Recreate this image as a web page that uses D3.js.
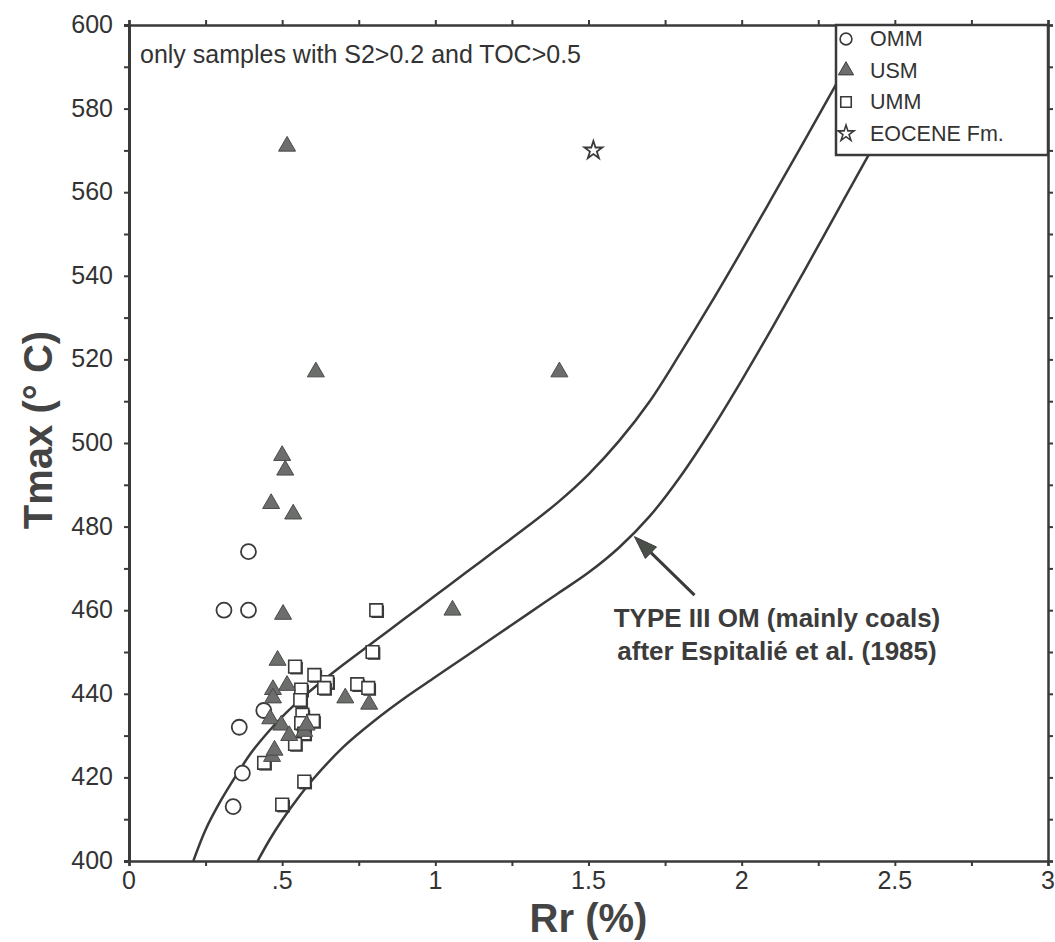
<!DOCTYPE html>
<html>
<head>
<meta charset="utf-8">
<script src="https://cdn.jsdelivr.net/npm/d3@7"></script>
<style>
  body { margin: 0; background: #fff; }
  text { font-family: "Liberation Sans", Arial, sans-serif; fill: #333; }
</style>
</head>
<body>
<svg id="chart" width="1055" height="942"></svg>
<script>
// values: [Rr %, Tmax °C]
var omm = [[0.31, 460], [0.39, 460], [0.39, 474], [0.44, 436], [0.36, 432], [0.37, 421], [0.34, 413]];
var usm = [[0.516, 571], [0.61, 517], [1.405, 517], [0.50, 497], [0.51, 493.5], [0.464, 485.5], [0.536, 483],
           [1.056, 460], [0.503, 459], [0.485, 448], [0.516, 442], [0.47, 441], [0.47, 439], [0.706, 439],
           [0.784, 437.5], [0.461, 434], [0.497, 432.5], [0.523, 430], [0.572, 431], [0.58, 432.5],
           [0.467, 425], [0.475, 426.5]];
var umm = [[0.807, 460], [0.795, 450], [0.542, 446.5], [0.605, 444.5], [0.647, 442.8], [0.637, 441.4],
           [0.745, 442.3], [0.781, 441.4], [0.562, 441], [0.559, 438.5], [0.566, 435], [0.601, 433.5],
           [0.562, 433], [0.572, 430.5], [0.542, 428], [0.441, 423.5], [0.572, 419], [0.50, 413.5]];
var eocene = [[1.516, 570]];

// Espitalie et al. (1985) type III band, read along both edges
var upperBound = [[0.21, 400], [0.25, 407.5], [0.30, 414.5], [0.35, 420.5], [0.40, 426], [0.45, 430.5],
                  [0.50, 434.5], [0.55, 438], [0.60, 441.2], [0.70, 447], [0.80, 452.5], [0.90, 458],
                  [1.0, 463.5], [1.1, 469], [1.2, 474.5], [1.3, 480], [1.4, 485.8], [1.5, 492.5],
                  [1.6, 500.5], [1.7, 510], [1.8, 521.5], [1.9, 533.5], [2.0, 546], [2.1, 558.8],
                  [2.2, 571.7], [2.3, 584.7], [2.4, 598], [2.42, 600.5]];
var lowerBound = [[0.42, 400], [0.46, 405.2], [0.50, 409.8], [0.55, 414.9], [0.60, 419.5], [0.70, 427.3],
                  [0.80, 433.5], [0.90, 439], [1.0, 444], [1.1, 449], [1.2, 454], [1.3, 459], [1.4, 464],
                  [1.5, 469], [1.6, 475], [1.7, 482.5], [1.8, 492], [1.9, 503], [2.0, 515], [2.1, 527.6],
                  [2.2, 540.6], [2.3, 553.8], [2.4, 567], [2.5, 580], [2.6, 593], [2.66, 600.5]];
var arrowFrom = [1.846, 463.6];
var arrowTo = [1.650, 477.6];

var xTicks = [0, 0.5, 1, 1.5, 2, 2.5, 3];
var xTickLabels = ["0", ".5", "1", "1.5", "2", "2.5", "3"];
var yTicks = [400, 420, 440, 460, 480, 500, 520, 540, 560, 580, 600];
var legendNames = ["OMM", "USM", "UMM", "EOCENE Fm."];

var svg = d3.select("#chart");
var pLeft = 129, pRight = 1048, pTop = 25, pBottom = 861;
var ink = "#3a3a3a";

var x = d3.scaleLinear().domain([0, 3]).range([pLeft, pRight]);
var y = d3.scaleLinear().domain([400, 600]).range([pBottom, pTop]);

svg.append("rect").attr("width", 1055).attr("height", 942).attr("fill", "#fff");

svg.append("defs").append("clipPath").attr("id", "plotclip")
  .append("rect").attr("x", pLeft).attr("y", pTop).attr("width", pRight - pLeft).attr("height", pBottom - pTop);

// axes, ticks outside on all four sides
var xAxisB = d3.axisBottom(x).tickValues(d3.range(0, 3.01, 0.25)).tickSize(5).tickFormat("");
var xAxisT = d3.axisTop(x).tickValues(d3.range(0, 3.01, 0.25)).tickSize(5).tickFormat("");
var yAxisL = d3.axisLeft(y).tickValues(d3.range(400, 601, 10)).tickSize(5).tickFormat("");
var yAxisR = d3.axisRight(y).tickValues(d3.range(400, 601, 10)).tickSize(5).tickFormat("");

function styleAxis(g, w) {
  g.select(".domain").attr("stroke", ink).attr("stroke-width", w);
  g.selectAll(".tick line").attr("stroke", ink).attr("stroke-width", 2);
}
svg.append("g").attr("transform", "translate(0," + pBottom + ")").call(xAxisB).call(styleAxis, 2.5);
svg.append("g").attr("transform", "translate(0," + pTop + ")").call(xAxisT).call(styleAxis, 2.5);
svg.append("g").attr("transform", "translate(" + pLeft + ",0)").call(yAxisL).call(styleAxis, 3);
svg.append("g").attr("transform", "translate(" + pRight + ",0)").call(yAxisR).call(styleAxis, 2.5);

svg.append("g").selectAll("text")
  .data(xTicks)
  .join("text")
    .attr("x", d => x(d))
    .attr("y", 889)
    .attr("text-anchor", "middle")
    .style("font-size", "25px")
    .text((d, i) => xTickLabels[i]);

svg.append("g").selectAll("text")
  .data(yTicks)
  .join("text")
    .attr("x", 113)
    .attr("y", d => y(d) + 8)
    .attr("text-anchor", "end")
    .style("font-size", "25px")
    .text(d => d);

svg.append("text")
  .attr("x", (pLeft + pRight) / 2)
  .attr("y", 932)
  .attr("text-anchor", "middle")
  .style("font-size", "40px")
  .style("font-weight", "bold")
  .style("fill", "#444")
  .text("Rr (%)");

svg.append("text")
  .attr("transform", "translate(52,430) rotate(-90)")
  .attr("text-anchor", "middle")
  .style("font-size", "40px")
  .style("font-weight", "bold")
  .style("fill", "#444")
  .text("Tmax (° C)");

// plot content
var plot = svg.append("g").attr("clip-path", "url(#plotclip)");

var line = d3.line()
  .x(d => x(d[0]))
  .y(d => y(d[1]))
  .curve(d3.curveCatmullRom.alpha(0.5));

plot.selectAll("path.bound")
  .data([upperBound, lowerBound])
  .join("path")
    .attr("class", "bound")
    .attr("d", line)
    .attr("fill", "none")
    .attr("stroke", ink)
    .attr("stroke-width", 2.5);

// arrow
var ax0 = x(arrowFrom[0]), ay0 = y(arrowFrom[1]), ax1 = x(arrowTo[0]), ay1 = y(arrowTo[1]);
var ang = Math.atan2(ay1 - ay0, ax1 - ax0);
var headLen = 23, headW = 8;
var bx = ax1 - headLen * Math.cos(ang), by = ay1 - headLen * Math.sin(ang);
plot.append("line")
  .attr("x1", ax0).attr("y1", ay0).attr("x2", bx).attr("y2", by)
  .attr("stroke", ink).attr("stroke-width", 3);
plot.append("path")
  .attr("d", "M" + ax1 + "," + ay1 +
    "L" + (bx + headW * Math.sin(ang)) + "," + (by - headW * Math.cos(ang)) +
    "L" + (bx - headW * Math.sin(ang)) + "," + (by + headW * Math.cos(ang)) + "Z")
  .attr("fill", "#4a4f4a")
  .attr("stroke", ink);

plot.append("text")
  .attr("x", 777).attr("y", 627)
  .attr("text-anchor", "middle")
  .style("font-size", "26px").style("font-weight", "bold").style("fill", "#3c3c3c")
  .text("TYPE III OM (mainly coals)");
plot.append("text")
  .attr("x", 777).attr("y", 660)
  .attr("text-anchor", "middle")
  .style("font-size", "26px").style("font-weight", "bold").style("fill", "#3c3c3c")
  .text("after Espitalié et al. (1985)");

plot.append("text")
  .attr("x", 140).attr("y", 63)
  .style("font-size", "25px")
  .text("only samples with S2>0.2 and TOC>0.5");

// markers
var triangle = d3.symbol(d3.symbolTriangle, 125);
var square = d3.symbol(d3.symbolSquare, 160);
var star = d3.symbol(d3.symbolStar, 100);

var sq = plot.append("g").selectAll("g")
  .data(umm)
  .join("g")
    .attr("transform", d => "translate(" + x(d[0]) + "," + y(d[1]) + ")");
sq.append("path")
  .attr("d", square)
  .attr("transform", "translate(1.5,1.5)")
  .attr("fill", ink);
sq.append("path")
  .attr("d", square)
  .attr("fill", "#fff")
  .attr("stroke", ink)
  .attr("stroke-width", 1.6);

plot.append("g").selectAll("circle")
  .data(omm)
  .join("circle")
    .attr("cx", d => x(d[0]))
    .attr("cy", d => y(d[1]))
    .attr("r", 7.5)
    .attr("fill", "#fff")
    .attr("stroke", ink)
    .attr("stroke-width", 1.8);

plot.append("g").selectAll("path")
  .data(usm)
  .join("path")
    .attr("transform", d => "translate(" + x(d[0]) + "," + y(d[1]) + ")")
    .attr("d", triangle)
    .attr("fill", "#6b6e6b")
    .attr("stroke", "#4a4a4a")
    .attr("stroke-width", 1);

plot.append("g").selectAll("path")
  .data(eocene)
  .join("path")
    .attr("transform", d => "translate(" + x(d[0]) + "," + y(d[1]) + ")")
    .attr("d", star)
    .attr("fill", "#fff")
    .attr("stroke", ink)
    .attr("stroke-width", 1.8);

// legend
var legend = svg.append("g");
legend.append("rect")
  .attr("x", 836).attr("y", pTop).attr("width", pRight - 836).attr("height", 130)
  .attr("fill", "#fff").attr("stroke", ink).attr("stroke-width", 2.5);

var rows = legend.selectAll("g.row")
  .data(legendNames)
  .join("g")
    .attr("class", "row")
    .attr("transform", (d, i) => "translate(846," + (39 + i * 31.5) + ")");

rows.append("path")
  .attr("d", (d, i) => i == 0 ? d3.symbol(d3.symbolCircle, 110)()
                    : i == 1 ? d3.symbol(d3.symbolTriangle, 100)()
                    : i == 2 ? d3.symbol(d3.symbolSquare, 110)()
                    : d3.symbol(d3.symbolStar, 80)())
  .attr("fill", (d, i) => i == 1 ? "#6b6e6b" : "#fff")
  .attr("stroke", ink)
  .attr("stroke-width", (d, i) => i == 1 ? 1 : 1.6);

rows.append("text")
  .attr("x", 24)
  .attr("y", 7)
  .style("font-size", "21.5px")
  .text(d => d);
</script>
</body>
</html>
